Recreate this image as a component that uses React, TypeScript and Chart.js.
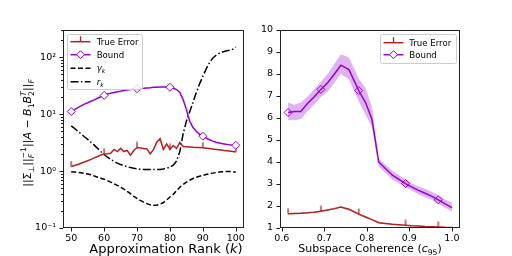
import React, { useEffect, useRef } from 'react';
import { Chart, registerables } from 'chart.js';
Chart.register(...registerables);

// ---------- Left panel data ----------
const rankK = [50,51,52,53,54,55,56,57,58,59,60,61,62,63,64,65,66,67,68,69,70,71,72,73,74,75,76,77,78,79,80,81,82,83,84,85,86,87,88,89,90,91,92,93,94,95,96,97,98,99,100];
const trueErrorRank = [1.2,1.25,1.3,1.37,1.44,1.52,1.6,1.7,1.8,1.92,2.0,2.02,2.05,2.4,2.2,2.5,2.2,2.3,1.9,2.3,2.6,2.55,2.5,2.45,2.0,2.4,3.2,3.7,2.4,3.0,2.4,2.8,2.5,3.2,2.7,2.68,2.65,2.62,2.6,2.58,2.56,2.52,2.48,2.44,2.4,2.36,2.32,2.28,2.24,2.2,2.16];
const boundRank = [11.1,12,13,14,15,15.8,16.8,17.8,19,20.2,21.3,22.5,23.2,24,24.8,25.3,26,26.5,27,27.5,27.9,28.2,28.4,28.8,29,29.5,29.6,29.8,29.8,30,29.6,28.5,27,24,18,12,7.5,5.8,5.0,4.4,4.1,3.8,3.55,3.35,3.2,3.1,3.02,2.95,2.9,2.86,2.83];
const gammaK = [0.97,0.96,0.95,0.93,0.91,0.89,0.86,0.82,0.78,0.75,0.72,0.68,0.64,0.6,0.56,0.52,0.48,0.44,0.4,0.36,0.33,0.305,0.285,0.268,0.255,0.25,0.252,0.262,0.28,0.31,0.35,0.39,0.45,0.52,0.58,0.64,0.69,0.74,0.78,0.81,0.84,0.87,0.9,0.92,0.94,0.96,0.97,0.98,0.98,0.975,0.95];
const rK = [6.2,5.6,5.0,4.5,4.0,3.6,3.2,2.85,2.5,2.2,1.95,1.75,1.6,1.48,1.38,1.3,1.24,1.19,1.15,1.12,1.1,1.08,1.07,1.06,1.06,1.06,1.06,1.07,1.09,1.12,1.17,1.27,1.5,2.2,4.5,7.5,11,16,24,34,46,62,80,96,108,117,123,128,132,137,150];
const rankTicks = [50,60,70,80,90,100];

// ---------- Right panel data ----------
const coherence = [0.615,0.63,0.645,0.66,0.676,0.692,0.708,0.724,0.739,0.758,0.781,0.797,0.812,0.828,0.86,0.891,0.905,0.92,0.937,0.952,0.968,0.984,1.0];
const boundCoh = [6.25,6.3,6.3,6.65,6.95,7.3,7.6,8.0,8.4,8.2,7.25,6.7,5.95,4.0,3.4,3.02,2.87,2.72,2.58,2.45,2.28,2.1,1.93];
const boundCohUpper = [6.7,6.6,6.7,6.95,7.3,7.65,8.0,8.45,8.9,8.75,7.8,7.35,6.5,4.15,3.6,3.2,3.05,2.9,2.78,2.65,2.5,2.3,2.15];
const boundCohLower = [5.9,5.9,5.95,6.3,6.6,6.95,7.2,7.6,8.0,7.75,6.75,6.15,5.6,3.8,3.2,2.85,2.7,2.55,2.4,2.28,2.1,1.92,1.75];
const trueErrCoh = [1.65,1.66,1.67,1.69,1.72,1.76,1.82,1.88,1.95,1.85,1.63,1.5,1.38,1.24,1.17,1.12,1.1,1.09,1.07,1.06,1.05,1.03,1.02];
const trueErrCohUpper = [1.68,1.69,1.7,1.72,1.75,1.79,1.85,1.92,1.99,1.89,1.67,1.54,1.41,1.27,1.19,1.14,1.12,1.11,1.09,1.08,1.07,1.05,1.04];
const trueErrCohLower = [1.62,1.63,1.64,1.66,1.69,1.73,1.79,1.84,1.91,1.81,1.59,1.46,1.35,1.21,1.15,1.1,1.08,1.07,1.05,1.04,1.03,1.01,1.0];
const cohXTicks = [0.6,0.7,0.8,0.9,1.0];
const cohYTicks = [1,2,3,4,5,6,7,8,9,10];

const RED = '#b22222';
const PURPLE = '#9400d3';
const FONT = 'DejaVu Sans';

type Item = { t: string; it?: boolean; sub?: string; subIt?: boolean; sup?: string; supIt?: boolean };

const fnt = (size: number, it?: boolean) => `${it ? 'italic ' : ''}${size}px "${FONT}"`;

function measureItems(ctx: CanvasRenderingContext2D, items: Item[], size: number) {
  let w = 0;
  for (const it of items) {
    ctx.font = fnt(size, it.it);
    w += ctx.measureText(it.t).width;
    let sw = 0;
    if (it.sub) { ctx.font = fnt(size * 0.7, it.subIt); sw = Math.max(sw, ctx.measureText(it.sub).width); }
    if (it.sup) { ctx.font = fnt(size * 0.7, it.supIt); sw = Math.max(sw, ctx.measureText(it.sup).width); }
    w += sw;
  }
  return w;
}

function drawItems(ctx: CanvasRenderingContext2D, items: Item[], x: number, y: number, size: number, align: 'center' | 'left', angle = 0) {
  ctx.save();
  ctx.translate(x, y);
  ctx.rotate(angle);
  ctx.fillStyle = '#000';
  ctx.textBaseline = 'alphabetic';
  ctx.textAlign = 'left';
  let cx = align === 'center' ? -measureItems(ctx, items, size) / 2 : 0;
  for (const it of items) {
    ctx.font = fnt(size, it.it);
    ctx.fillText(it.t, cx, 0);
    cx += ctx.measureText(it.t).width;
    let sw = 0;
    if (it.sub) {
      ctx.font = fnt(size * 0.7, it.subIt);
      ctx.fillText(it.sub, cx, size * 0.24);
      sw = Math.max(sw, ctx.measureText(it.sub).width);
    }
    if (it.sup) {
      ctx.font = fnt(size * 0.7, it.supIt);
      ctx.fillText(it.sup, cx, -size * 0.42);
      sw = Math.max(sw, ctx.measureText(it.sup).width);
    }
    cx += sw;
  }
  ctx.restore();
}

function tickCanvas(color: string) {
  const c = document.createElement('canvas');
  c.width = 4; c.height = 12;
  const g = c.getContext('2d')!;
  g.strokeStyle = color; g.lineWidth = 1.3;
  g.beginPath(); g.moveTo(2, 0.5); g.lineTo(2, 6); g.stroke();
  return c;
}

type LegendEntry = { label: Item[]; kind: 'tick' | 'diamond' | 'dash' | 'dashdot' };

function drawLegend(ctx: CanvasRenderingContext2D, box: { x: number; y: number; w: number; h: number }, rows: number[], entries: LegendEntry[], sx: number, tx: number) {
  ctx.save();
  const r = 2;
  const { x, y, w, h } = box;
  ctx.beginPath();
  ctx.moveTo(x + r, y); ctx.lineTo(x + w - r, y); ctx.quadraticCurveTo(x + w, y, x + w, y + r);
  ctx.lineTo(x + w, y + h - r); ctx.quadraticCurveTo(x + w, y + h, x + w - r, y + h);
  ctx.lineTo(x + r, y + h); ctx.quadraticCurveTo(x, y + h, x, y + h - r);
  ctx.lineTo(x, y + r); ctx.quadraticCurveTo(x, y, x + r, y);
  ctx.closePath();
  ctx.fillStyle = 'rgba(255,255,255,0.8)';
  ctx.fill();
  ctx.strokeStyle = '#cccccc'; ctx.lineWidth = 1;
  ctx.stroke();
  entries.forEach((e, i) => {
    const yy = rows[i];
    ctx.lineWidth = 1.5;
    ctx.setLineDash([]);
    if (e.kind === 'tick') {
      ctx.strokeStyle = RED;
      ctx.beginPath(); ctx.moveTo(sx, yy); ctx.lineTo(sx + 20, yy); ctx.stroke();
      ctx.lineWidth = 1.3;
      ctx.beginPath(); ctx.moveTo(sx + 10, yy); ctx.lineTo(sx + 10, yy - 5.5); ctx.stroke();
    } else if (e.kind === 'diamond') {
      ctx.strokeStyle = PURPLE;
      ctx.beginPath(); ctx.moveTo(sx, yy); ctx.lineTo(sx + 20, yy); ctx.stroke();
      ctx.lineWidth = 1;
      const cx = sx + 10;
      ctx.beginPath(); ctx.moveTo(cx - 4, yy); ctx.lineTo(cx, yy - 4); ctx.lineTo(cx + 4, yy); ctx.lineTo(cx, yy + 4); ctx.closePath();
      ctx.fillStyle = '#fff'; ctx.fill(); ctx.stroke();
    } else if (e.kind === 'dash') {
      ctx.strokeStyle = '#000';
      ctx.setLineDash([5, 2.5]);
      ctx.beginPath(); ctx.moveTo(sx, yy); ctx.lineTo(sx + 20, yy); ctx.stroke();
    } else {
      ctx.strokeStyle = '#000';
      ctx.setLineDash([8, 2.4, 1.5, 2.4]);
      ctx.beginPath(); ctx.moveTo(sx, yy); ctx.lineTo(sx + 20, yy); ctx.stroke();
    }
    ctx.setLineDash([]);
    drawItems(ctx, e.label, tx, yy + 3.2, 8.6, 'left');
  });
  ctx.restore();
}

function drawFrame(chart: any, logY: boolean) {
  const ctx: CanvasRenderingContext2D = chart.ctx;
  const a = chart.chartArea;
  const xs = chart.scales.x, ys = chart.scales.y;
  ctx.save();
  ctx.strokeStyle = '#000';
  ctx.lineWidth = 0.9;
  ctx.setLineDash([]);
  ctx.beginPath();
  xs.ticks.forEach((t: any) => {
    const px = Math.round(xs.getPixelForValue(t.value)) + 0.5;
    ctx.moveTo(px, a.bottom); ctx.lineTo(px, a.bottom + 3.5);
  });
  ys.ticks.forEach((t: any) => {
    const v = t.value;
    let len = 3.5;
    if (logY) {
      const l = Math.log10(v);
      const major = Math.abs(l - Math.round(l)) < 1e-6;
      const sig = v / Math.pow(10, Math.floor(l + 1e-9));
      if (!major && Math.abs(sig - Math.round(sig)) > 1e-6) return;
      len = major ? 3.5 : 2;
    }
    const py = Math.round(ys.getPixelForValue(v)) + 0.5;
    ctx.moveTo(a.left - len, py); ctx.lineTo(a.left, py);
  });
  ctx.stroke();
  ctx.lineWidth = 1;
  ctx.strokeStyle = '#222';
  ctx.strokeRect(Math.round(a.left) + 0.5, Math.round(a.top) + 0.5, Math.round(a.right - a.left) - 1, Math.round(a.bottom - a.top) - 1);
  ctx.restore();
}

const supMap: Record<string, string> = { '-': '⁻', '0': '⁰', '1': '¹', '2': '²', '3': '³' };

function axisCommon(fitW?: number, fitH?: number) {
  return {
    grid: { display: true, drawOnChartArea: false, drawTicks: true, tickLength: 4, color: 'rgba(0,0,0,0)' },
    border: { display: false },
    afterFit: (s: any) => {
      if (fitW !== undefined) s.width = fitW;
      if (fitH !== undefined) s.height = fitH;
    },
  };
}

export default function App() {
  const leftRef = useRef<HTMLCanvasElement>(null);
  const rightRef = useRef<HTMLCanvasElement>(null);

  useEffect(() => {
    Chart.defaults.font.family = FONT;
    Chart.defaults.color = '#000';
    const redTick = tickCanvas(RED);

    const left = new Chart(leftRef.current!, {
      type: 'line',
      data: {
        datasets: [
          {
            label: 'True Error',
            data: rankK.map((k, i) => ({ x: k, y: trueErrorRank[i] })),
            borderColor: RED, borderWidth: 1.5, tension: 0,
            pointStyle: redTick as any,
            pointRadius: (c: any) => (rankK[c.dataIndex] % 10 === 0 ? 4 : 0),
            order: 2,
          },
          {
            label: 'Bound',
            data: rankK.map((k, i) => ({ x: k, y: boundRank[i] })),
            borderColor: PURPLE, borderWidth: 1.5, tension: 0,
            pointStyle: 'rectRot',
            pointRadius: (c: any) => (rankK[c.dataIndex] % 10 === 0 ? 4 : 0),
            pointBackgroundColor: '#fff', pointBorderColor: PURPLE, pointBorderWidth: 1,
            order: 1,
          },
          {
            label: 'gamma',
            data: rankK.map((k, i) => ({ x: k, y: gammaK[i] })),
            borderColor: '#000', borderWidth: 1.5, borderDash: [5, 2.5], pointRadius: 0, tension: 0,
            order: 3,
          },
          {
            label: 'r',
            data: rankK.map((k, i) => ({ x: k, y: rK[i] })),
            borderColor: '#000', borderWidth: 1.5, borderDash: [8, 2.4, 1.5, 2.4], pointRadius: 0, tension: 0,
            order: 4,
          },
        ],
      },
      options: {
        animation: false, responsive: false, maintainAspectRatio: false,
        layout: { padding: { left: 0, top: 30, right: 12, bottom: 0 } },
        plugins: { legend: { display: false }, tooltip: { enabled: false } },
        scales: {
          x: {
            type: 'linear', min: 47.5, max: 102.5,
            afterBuildTicks: (s: any) => { s.ticks = rankTicks.map((v) => ({ value: v })); },
            ticks: { font: { size: 9.5 }, padding: 1, maxRotation: 0, autoSkip: false, callback: (v: any) => String(v) },
            ...axisCommon(undefined, 28),
          },
          y: {
            type: 'logarithmic', min: 0.1, max: 300,
            ticks: {
              font: { size: 9.5 }, padding: 3, autoSkip: false,
              callback: (v: any) => {
                const l = Math.log10(v);
                if (Math.abs(l - Math.round(l)) < 1e-6) {
                  return '10' + String(Math.round(l)).split('').map((ch) => supMap[ch]).join('');
                }
                return '';
              },
            },
            ...axisCommon(63, undefined),
          },
        } as any,
      },
      plugins: [
        {
          id: 'decorL',
          afterDraw: (chart: any) => {
            drawFrame(chart, true);
            const ctx = chart.ctx as CanvasRenderingContext2D;
            drawItems(ctx, [{ t: 'Approximation Rank (' }, { t: 'k', it: true }, { t: ')' }], 166, 253, 13, 'center');
            drawItems(ctx, [
              { t: '||Σ', sub: '⊥' }, { t: '||', sub: 'F', subIt: true, sup: '−1' }, { t: '||' }, { t: 'A', it: true },
              { t: ' − ' }, { t: 'B', it: true, sub: '1' }, { t: 'B', it: true, sub: '2', sup: 'T', supIt: true },
              { t: '||', sub: 'F', subIt: true },
            ], 31, 133, 11, 'center', -Math.PI / 2);
            drawLegend(ctx, { x: 67.5, y: 34.5, w: 75, h: 55 }, [41.7, 54.7, 68.2, 81.7], [
              { label: [{ t: 'True Error' }], kind: 'tick' },
              { label: [{ t: 'Bound' }], kind: 'diamond' },
              { label: [{ t: 'γ', it: true, sub: 'k', subIt: true }], kind: 'dash' },
              { label: [{ t: 'r', it: true, sub: 'k', subIt: true }], kind: 'dashdot' },
            ], 70.5, 96.7);
          },
        },
      ],
    });

    const right = new Chart(rightRef.current!, {
      type: 'line',
      data: {
        datasets: [
          {
            label: 'bu', data: coherence.map((c, i) => ({ x: c, y: boundCohUpper[i] })),
            borderWidth: 0, pointRadius: 0, fill: '+1', backgroundColor: 'rgba(148,0,211,0.3)', tension: 0, order: 5,
          },
          {
            label: 'bl', data: coherence.map((c, i) => ({ x: c, y: boundCohLower[i] })),
            borderWidth: 0, pointRadius: 0, fill: false, tension: 0, order: 6,
          },
          {
            label: 'tu', data: coherence.map((c, i) => ({ x: c, y: trueErrCohUpper[i] })),
            borderWidth: 0, pointRadius: 0, fill: '+1', backgroundColor: 'rgba(178,34,34,0.25)', tension: 0, order: 7,
          },
          {
            label: 'tl', data: coherence.map((c, i) => ({ x: c, y: trueErrCohLower[i] })),
            borderWidth: 0, pointRadius: 0, fill: false, tension: 0, order: 8,
          },
          {
            label: 'True Error', data: coherence.map((c, i) => ({ x: c, y: trueErrCoh[i] })),
            borderColor: RED, borderWidth: 1.5, tension: 0,
            pointStyle: redTick as any,
            pointRadius: (c: any) => (c.dataIndex % 5 === 0 ? 4 : 0),
            order: 2,
          },
          {
            label: 'Bound', data: coherence.map((c, i) => ({ x: c, y: boundCoh[i] })),
            borderColor: PURPLE, borderWidth: 1.5, tension: 0,
            pointStyle: 'rectRot',
            pointRadius: (c: any) => (c.dataIndex % 5 === 0 ? 4 : 0),
            pointBackgroundColor: 'rgba(0,0,0,0)', pointBorderColor: PURPLE, pointBorderWidth: 1,
            order: 1,
          },
        ],
      },
      options: {
        animation: false, responsive: false, maintainAspectRatio: false,
        layout: { padding: { left: 0, top: 30, right: 52, bottom: 0 } },
        plugins: { legend: { display: false }, tooltip: { enabled: false } },
        scales: {
          x: {
            type: 'linear', min: 0.596, max: 1.019,
            afterBuildTicks: (s: any) => { s.ticks = cohXTicks.map((v) => ({ value: v })); },
            ticks: { font: { size: 9.5 }, padding: 1, maxRotation: 0, autoSkip: false, callback: (v: any) => Number(v).toFixed(1) },
            ...axisCommon(undefined, 28),
          },
          y: {
            type: 'linear', min: 1, max: 10,
            afterBuildTicks: (s: any) => { s.ticks = cohYTicks.map((v) => ({ value: v })); },
            ticks: { font: { size: 9.5 }, padding: 3, autoSkip: false, callback: (v: any) => String(v) },
            ...axisCommon(24, undefined),
          },
        } as any,
      },
      plugins: [
        {
          id: 'decorR',
          afterDraw: (chart: any) => {
            drawFrame(chart, false);
            const ctx = chart.ctx as CanvasRenderingContext2D;
            drawItems(ctx, [{ t: 'Subspace Coherence (' }, { t: 'c', it: true, sub: '95' }, { t: ')' }], 114, 252, 11, 'center');
            drawLegend(ctx, { x: 124.5, y: 34.5, w: 76, h: 29 }, [42.7, 54.7], [
              { label: [{ t: 'True Error' }], kind: 'tick' },
              { label: [{ t: 'Bound' }], kind: 'diamond' },
            ], 127.5, 153.3);
          },
        },
      ],
    });

    return () => { left.destroy(); right.destroy(); };
  }, []);

  return (
    <div style={{ position: 'absolute', left: 0, top: 0, width: 512, height: 256, background: '#fff' }}>
      <canvas ref={leftRef} width={256} height={256} style={{ position: 'absolute', left: 0, top: 0, width: 256, height: 256 }} />
      <canvas ref={rightRef} width={256} height={256} style={{ position: 'absolute', left: 256, top: 0, width: 256, height: 256 }} />
    </div>
  );
}
